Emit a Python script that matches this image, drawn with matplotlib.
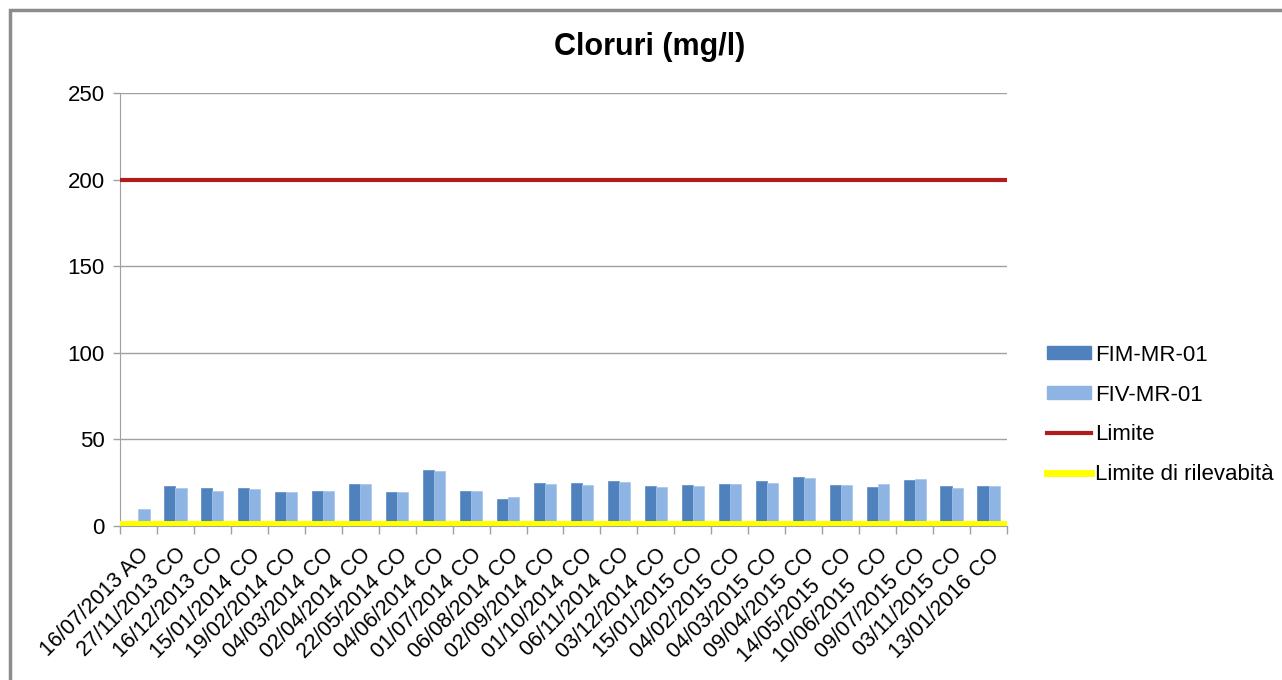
"""
Cloruri (mg/l) bar chart with limit lines, Excel-like look.
"""

import matplotlib.pyplot as plt
import numpy as np
from matplotlib.patches import Rectangle
from matplotlib.lines import Line2D

plt.rcParams['font.family'] = ['Liberation Sans', 'DejaVu Sans']

# Data
dates = ['16/07/2013 AO', '27/11/2013 CO', '16/12/2013 CO', '15/01/2014 CO',
         '19/02/2014 CO', '04/03/2014 CO', '02/04/2014 CO', '22/05/2014 CO',
         '04/06/2014 CO', '01/07/2014 CO', '06/08/2014 CO', '02/09/2014 CO',
         '01/10/2014 CO', '06/11/2014 CO', '03/12/2014 CO', '15/01/2015 CO',
         '04/02/2015 CO', '04/03/2015 CO', '09/04/2015 CO', '14/05/2015  CO',
         '10/06/2015  CO', '09/07/2015 CO', '03/11/2015 CO', '13/01/2016 CO']
fim = [0, 23.1, 21.7, 21.7, 19.8, 20.4, 24.2, 19.8, 32.3, 20.4, 15.4, 24.8,
       24.8, 26.0, 22.9, 23.5, 24.2, 26.0, 28.5, 23.5, 22.3, 26.6, 22.9, 22.9]
fiv = [9.6, 21.7, 20.4, 21.2, 19.8, 20.4, 24.2, 19.8, 31.8, 20.4, 16.6, 24.2,
       23.5, 25.4, 22.3, 22.9, 24.2, 24.8, 27.9, 23.5, 24.2, 27.3, 21.7, 22.9]
limite = 200
limite_rilevabilita = 1

c_fim = '#4f81bd'
c_fiv = '#8eb4e3'
c_lim = '#b01c1c'
c_ril = '#ffff00'

fig = plt.figure(figsize=(12.82, 6.8), dpi=100)
ax = fig.add_axes([120 / 1282, 1 - 526 / 680, 887 / 1282, 433 / 680])

x = np.arange(len(dates))
w = 0.3
ax.bar(x - w / 2, fim, width=w, color=c_fim, edgecolor='#5a8ac6', linewidth=0.5, zorder=2)
ax.bar(x + w / 2, fiv, width=w, color=c_fiv, edgecolor='#a6c4ea', linewidth=0.5, zorder=2)
ax.axhline(limite, color=c_lim, linewidth=3, zorder=3)
ax.axhline(limite_rilevabilita, color=c_ril, linewidth=5, zorder=3)

ax.set_xlim(-0.5, len(dates) - 0.5)
ax.set_ylim(0, 250)
ax.set_yticks(np.arange(0, 251, 50))
ax.yaxis.grid(True, color='#a0a0a0', linewidth=1)
ax.set_axisbelow(True)

ax.set_xticks(x)
ax.set_xticklabels(dates, rotation=45, ha='right', va='top',
                   rotation_mode='anchor', fontsize=15.5)
ax.tick_params(axis='x', length=0, pad=13)
ax.set_xticks(np.arange(-0.5, len(dates), 1), minor=True)
ax.tick_params(axis='x', which='minor', length=6, color='#a0a0a0', width=1)
ax.tick_params(axis='y', length=5, color='#a0a0a0', width=1, labelsize=16, pad=6)

for s in ['top', 'right']:
    ax.spines[s].set_visible(False)
ax.spines['left'].set_color('#a0a0a0')
ax.spines['bottom'].set_color('#a0a0a0')

fig.text(650 / 1282, 1 - 47 / 680, 'Cloruri (mg/l)', fontsize=22,
         fontweight='bold', ha='center', va='center')

handles = [Rectangle((0, 0), 1, 1, color=c_fim),
           Rectangle((0, 0), 1, 1, color=c_fiv),
           Line2D([0], [0], color=c_lim, linewidth=3),
           Line2D([0], [0], color=c_ril, linewidth=5)]
labels = ['FIM-MR-01', 'FIV-MR-01', 'Limite', 'Limite di rilevabità']
fig.legend(handles, labels, loc='center left', bbox_to_anchor=(1047 / 1282, 1 - 415 / 680),
           frameon=False, fontsize=16, handlelength=2.0, handleheight=0.5,
           handletextpad=0.15, labelspacing=0.85, borderaxespad=0, borderpad=0)

# outer chart border
fig.patches.append(Rectangle((10 / 1282, -0.1), 1.2, 1 - 10 / 680 + 0.1,
                             transform=fig.transFigure, fill=False,
                             edgecolor='#8c8c8c', linewidth=2.5))

fig.savefig('out.png', dpi=100, facecolor='white')
